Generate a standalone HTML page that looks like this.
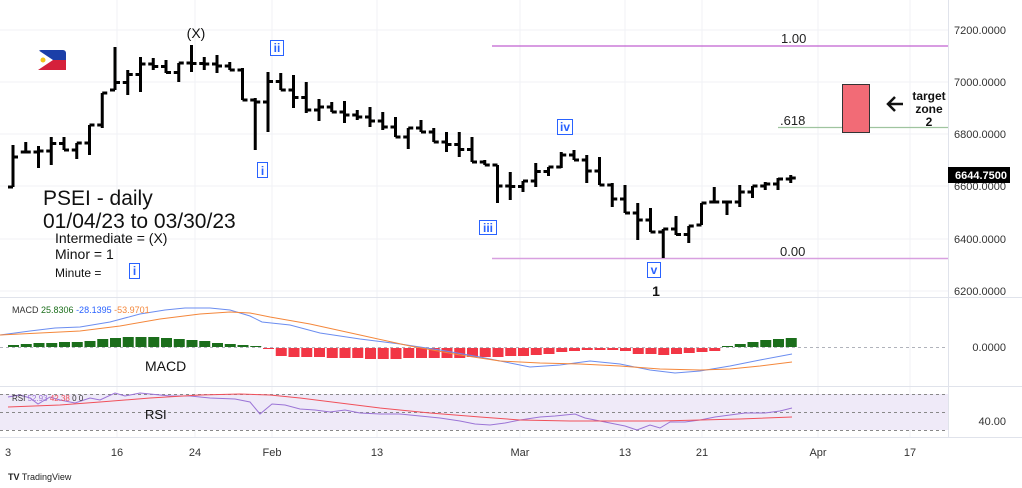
<!DOCTYPE html>
<html><head><meta charset="utf-8"><style>
html,body{margin:0;padding:0;background:#fff;}
svg{display:block;font-family:"Liberation Sans",sans-serif;}
</style></head><body>
<svg id="s" width="1022" height="488" viewBox="0 0 1022 488" xmlns="http://www.w3.org/2000/svg">
<rect width="1022" height="488" fill="#fff"/>
<g stroke="#f0f2f5" stroke-width="1">
<line x1="0" y1="30" x2="948" y2="30"/><line x1="0" y1="82" x2="948" y2="82"/><line x1="0" y1="134" x2="948" y2="134"/><line x1="0" y1="186" x2="948" y2="186"/><line x1="0" y1="239" x2="948" y2="239"/><line x1="0" y1="291" x2="948" y2="291"/>
<line x1="117" y1="0" x2="117" y2="437"/><line x1="195" y1="0" x2="195" y2="437"/><line x1="272" y1="0" x2="272" y2="437"/><line x1="377" y1="0" x2="377" y2="437"/><line x1="520" y1="0" x2="520" y2="437"/><line x1="625" y1="0" x2="625" y2="437"/><line x1="702" y1="0" x2="702" y2="437"/><line x1="818" y1="0" x2="818" y2="437"/><line x1="910" y1="0" x2="910" y2="437"/>
</g>
<g stroke="#e0e3eb" stroke-width="1">
<line x1="0" y1="297.5" x2="1022" y2="297.5"/><line x1="0" y1="386.5" x2="1022" y2="386.5"/><line x1="0" y1="437.5" x2="1022" y2="437.5"/><line x1="948.5" y1="0" x2="948.5" y2="437"/>
</g>
<g font-size="11" fill="#333" text-anchor="end">
<text x="1006" y="34">7200.0000</text><text x="1006" y="86">7000.0000</text><text x="1006" y="138">6800.0000</text><text x="1006" y="190">6600.0000</text><text x="1006" y="243">6400.0000</text><text x="1006" y="295">6200.0000</text>
<text x="1006" y="351">0.0000</text><text x="1006" y="425">40.00</text>
</g>
<rect x="948" y="167" width="62" height="16" fill="#000"/>
<text x="1007" y="179" font-size="11" fill="#fff" text-anchor="end" font-weight="bold">6644.7500</text>
<!-- fib -->
<line x1="492" y1="46" x2="948" y2="46" stroke="#c060d0" stroke-width="1.2"/>
<line x1="492" y1="258.5" x2="948" y2="258.5" stroke="#d8a0e0" stroke-width="1.5"/>
<line x1="778" y1="127.5" x2="948" y2="127.5" stroke="#9fc49f" stroke-width="1.2"/>
<text x="781" y="43" font-size="13" fill="#222">1.00</text>
<text x="780" y="125" font-size="13" fill="#222">.618</text>
<text x="780" y="256" font-size="13" fill="#222">0.00</text>
<rect x="842.5" y="84.5" width="27" height="48" fill="#f26b76" stroke="#333" stroke-width="1"/>
<path d="M903 104H888M895 97L888 104L895 111" stroke="#111" stroke-width="2.5" fill="none"/>
<g font-size="12" font-weight="bold" fill="#111" text-anchor="middle"><text x="929" y="100">target</text><text x="929" y="113">zone</text><text x="929" y="126">2</text></g>
<!-- flag -->
<rect x="38" y="50" width="28" height="20" rx="3" fill="#1b3fa8"/><rect x="38" y="60" width="28" height="10" fill="#d5213b"/><path d="M38 50 L53 60 L38 70Z" fill="#fff"/><circle cx="43" cy="60" r="2.5" fill="#f3c419"/>
<g id="bars" stroke="#000" stroke-width="3" fill="none"></g>
<!-- labels -->
<text x="196" y="38" font-size="14" text-anchor="middle" fill="#111">(X)</text>
<g font-size="12" fill="#2962ff" stroke="#2962ff" stroke-width="1">
<rect x="270.5" y="40.5" width="13" height="15" fill="#fff"/><rect x="257.5" y="162.5" width="10" height="15" fill="#fff"/><rect x="479.5" y="220.5" width="17" height="14" fill="#fff"/><rect x="557.5" y="119.5" width="15" height="15" fill="#fff"/><rect x="647.5" y="262.5" width="13" height="15" fill="#fff"/><rect x="129.5" y="263.5" width="10" height="15" fill="#fff"/>
</g>
<g font-size="12" fill="#2962ff" text-anchor="middle" font-weight="bold">
<text x="277" y="52">ii</text><text x="262.5" y="175">i</text><text x="488" y="232">iii</text><text x="565" y="131">iv</text><text x="654" y="274">v</text><text x="134.5" y="275">i</text>
</g>
<text x="656" y="296" font-size="14" font-weight="bold" text-anchor="middle" fill="#111">1</text>
<text x="43" y="205" font-size="21" fill="#111">PSEI - daily</text>
<text x="43" y="228" font-size="21" fill="#111">01/04/23 to 03/30/23</text>
<text x="55" y="243" font-size="14" fill="#111">Intermediate = (X)</text>
<text x="55" y="259" font-size="14" fill="#111">Minor = 1</text>
<text x="55" y="277" font-size="12" fill="#111">Minute  =</text>
<!-- MACD -->
<line x1="0" y1="347.5" x2="948" y2="347.5" stroke="#b0b3bb" stroke-dasharray="3,3"/>
<g id="hist"></g>
<polyline fill="none" stroke="#6b8df0" stroke-width="1" points="0,335 30,331 55,328 80,327 110,322 140,314 165,310 185,308 210,308 230,310 250,316 262,322 290,325 320,333 360,339 400,344 440,350 480,357 510,363 530,367 560,365 590,361 620,364 650,370 675,373 700,371 730,366 760,360 792,354"/>
<polyline fill="none" stroke="#f4873b" stroke-width="1" points="0,335 40,333 80,331 120,326 160,319 200,314 230,312 250,313 270,317 310,324 360,335 410,346 460,355 500,361 540,363 580,364 620,366 660,369 700,370 730,369 760,366 792,362"/>
<text x="12" y="313" font-size="9" fill="#333">MACD <tspan fill="#1b6e1b">25.8306</tspan> <tspan fill="#2962ff">-28.1395</tspan> <tspan fill="#f4873b">-53.9701</tspan></text>
<text x="145" y="371" font-size="14" fill="#111">MACD</text>
<!-- RSI -->
<rect x="0" y="394" width="948" height="36" fill="#efeaf8"/>
<g stroke="#888" stroke-dasharray="3,3"><line x1="0" y1="394.5" x2="948" y2="394.5"/><line x1="0" y1="412.5" x2="948" y2="412.5"/><line x1="0" y1="430.5" x2="948" y2="430.5"/></g>
<polyline fill="none" stroke="#9b74d6" stroke-width="1" points="8,397 20,395 30,398 38,404 50,397 60,400 75,403 90,398 100,400 115,393 125,396 140,393 150,394 170,396 190,396 210,398 235,399 250,402 260,414 272,404 285,405 300,409 315,410 330,412 345,410 360,413 380,414 400,414 420,416 440,418 460,421 475,424 490,425 505,423 520,420 540,417 555,416 575,414 585,418 600,421 615,424 625,426 637,430 650,425 660,428 670,422 685,422 700,420 715,417 730,415 745,413 765,413 780,411 792,408"/>
<polyline fill="none" stroke="#f0505a" stroke-width="1" points="8,407 60,405 100,402 150,398 200,395 240,394 270,395 300,398 340,403 380,408 430,413 480,417 520,420 570,421 620,421 660,421 700,420 740,419 792,417"/>
<text x="12" y="401" font-size="8" fill="#333">RSI <tspan fill="#9b74d6">52.93</tspan> <tspan fill="#f0505a">42.38</tspan> 0 0</text>
<text x="145" y="419" font-size="13" fill="#111">RSI</text>
<!-- time axis -->
<g font-size="11" fill="#333" text-anchor="middle">
<text x="8" y="456">3</text><text x="117" y="456">16</text><text x="195" y="456">24</text><text x="272" y="456">Feb</text><text x="377" y="456">13</text><text x="520" y="456">Mar</text><text x="625" y="456">13</text><text x="702" y="456">21</text><text x="818" y="456">Apr</text><text x="910" y="456">17</text>
</g>
<text x="8" y="480" font-size="9" fill="#222"><tspan font-weight="bold">TV</tspan> TradingView</text>
</svg>
<script>
var R=[[145,187],[142,152],[146,168],[137,165],[137,150],[143,159],[125,155],[93,128],[47,90],[70,95],[57,92],[58,70],[60,73],[63,82],[45,72],[57,70],[55,73],[62,70],[68,100],[98,150],[72,132],[73,90],[75,108],[82,113],[99,121],[102,112],[101,123],[110,120],[107,127],[112,130],[117,137],[128,149],[120,132],[128,142],[132,152],[132,157],[137,162],[160,165],[165,203],[172,200],[181,192],[163,187],[167,176],[152,168],[150,160],[155,183],[157,185],[183,207],[185,213],[203,240],[208,232],[229,258],[216,235],[226,243],[203,225],[187,202],[202,215],[185,207],[186,198],[182,190],[178,190],[175,183]];
var g=document.getElementById('bars'),h='',pc=160;
function cl(v,a,b){return Math.max(a,Math.min(b,v));}
for(var i=0;i<R.length;i++){var x=13+i*12.75,hi=R[i][0],lo=R[i][1];
var o=cl(pc,hi,lo);var nx=R[i+1]?(R[i+1][0]+R[i+1][1])/2:hi+3;var c=cl(nx,hi,lo);
if(i==0){o=lo;c=157;}
h+='<path d="M'+x+' '+hi+'V'+lo+'M'+(x-5)+' '+o+'H'+x+'M'+x+' '+c+'H'+(x+5)+'"/>';pc=c;}
g.innerHTML=h;
var H=[2,3,4,4,5,5,6,8,9,10,10,10,9,8,7,6,4,3,2,1,-1,-8,-9,-9,-9,-10,-10,-10,-11,-11,-11,-10,-10,-10,-10,-10,-9,-9,-9,-8,-8,-7,-6,-4,-3,-2,-2,-2,-3,-6,-6,-7,-6,-5,-4,-3,1,3,5,7,8,9,10];
var hh='';for(var i=0;i<62;i++){var x=8+i*12.75,v=H[i];
if(v>=0)hh+='<rect x="'+x+'" y="'+(347-v)+'" width="11" height="'+v+'" fill="#1b6e1b"/>';
else hh+='<rect x="'+x+'" y="348" width="11" height="'+(-v)+'" fill="#f23645"/>';}
document.getElementById('hist').innerHTML=hh;
</script>
</body></html>
